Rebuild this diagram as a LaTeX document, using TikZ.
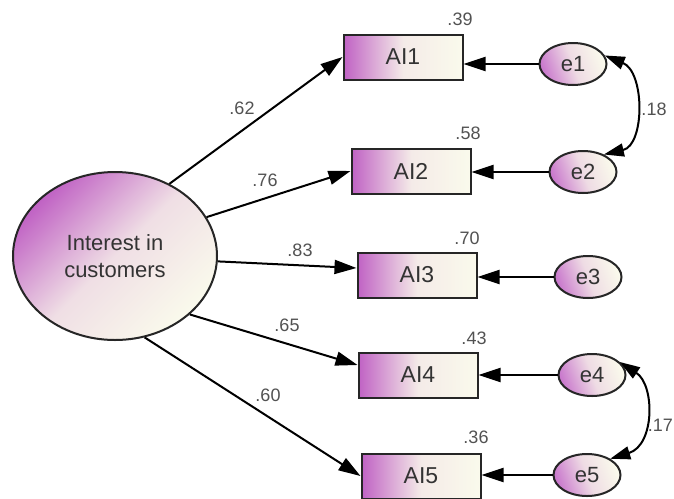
\documentclass[tikz,border=0pt]{standalone}
\usepackage{fontspec}
\setmainfont{Liberation Sans}
\usetikzlibrary{shapes.geometric,arrows.meta,calc}
\definecolor{purp}{HTML}{C062C4}
\definecolor{cream}{HTML}{FAFAEC}
\definecolor{txt}{HTML}{333333}
\begin{document}
\begin{tikzpicture}[x=1pt,y=-1pt,
  box/.style={draw=black!85, line width=2pt, minimum width=119pt, minimum height=45pt, inner sep=0pt,
    left color=purp, right color=cream, middle color=purp!10!cream, text=txt, font=\fontsize{23}{25}\selectfont},
  err/.style={ellipse, draw=black!85, line width=2pt, minimum width=67pt, minimum height=42pt, inner sep=0pt,
    left color=purp!85, right color=cream, middle color=purp!20!cream, shading angle=110, text=txt, font=\fontsize{22}{24}\selectfont},
  latent/.style={ellipse, draw=black!85, line width=2pt, minimum width=204pt, minimum height=168pt, inner sep=0pt,
    left color=purp, right color=cream, middle color=purp!18!cream, shading angle=45, text=txt, align=center,
    font=\fontsize{22}{27}\selectfont},
  lbl/.style={text=txt!85, font=\fontsize{18}{20}\selectfont, inner sep=0pt},
  path/.style={draw=black, line width=2pt, -{Triangle[length=22pt,width=14pt]}},
  cov/.style={draw=black, line width=2pt, {Triangle[length=20pt,width=13pt]}-{Triangle[length=20pt,width=13pt]}}
]
\useasboundingbox (0,0) rectangle (674,498);
\fill[white] (0,0) rectangle (674,498);

\node[latent] (F) at (115,256) {Interest in\\customers};

\node[box] (A1) at (403,57) {AI1};
\node[box] (A2) at (411,171) {AI2};
\node[box] (A3) at (417,275) {AI3};
\node[box] (A4) at (418,375) {AI4};
\node[box] (A5) at (421,476) {AI5};

\node[err] (e1) at (573,64) {e1};
\node[err] (e2) at (583,172) {e2};
\node[err] (e3) at (588,277) {e3};
\node[err] (e4) at (592,375) {e4};
\node[err] (e5) at (587,475) {e5};

\draw[path] (F.53) -- (A1.west);
\draw[path] (F.23) -- (A2.west);
\draw[path] (F.-3) -- ([yshift=7pt]A3.west);
\draw[path] (F.-38) -- ([yshift=10pt]A4.west);
\draw[path] (F.-70) -- (A5.west);

\draw[path] (e1.west) -- (A1.east |- e1.west);
\draw[path] (e2.west) -- (A2.east |- e2.west);
\draw[path] (e3.west) -- (A3.east |- e3.west);
\draw[path] (e4.west) -- (A4.east |- e4.west);
\draw[path] (e5.west) -- (A5.east |- e5.west);

\draw[cov] (e1.15) .. controls (645,72) and (645,145) .. (e2.40);
\draw[cov] (e4.25) .. controls (655,385) and (655,445) .. (e5.35);

\node[lbl] (p1) at (242,108) {.62};
\node[lbl] (p2) at (265,180) {.76};
\node[lbl] (p3) at (300,250) {.83};
\node[lbl] (p4) at (287,325) {.65};
\node[lbl] (p5) at (268,395) {.60};

\node[lbl] (r1) at (460,19) {.39};
\node[lbl] (r2) at (468,133) {.58};
\node[lbl] (r3) at (467,238) {.70};
\node[lbl] (r4) at (474,338) {.43};
\node[lbl] (r5) at (476,437) {.36};

\node[lbl] (c1) at (654,109) {.18};
\node[lbl, anchor=east] (c2) at (673,425) {.17};
\end{tikzpicture}
\end{document}
